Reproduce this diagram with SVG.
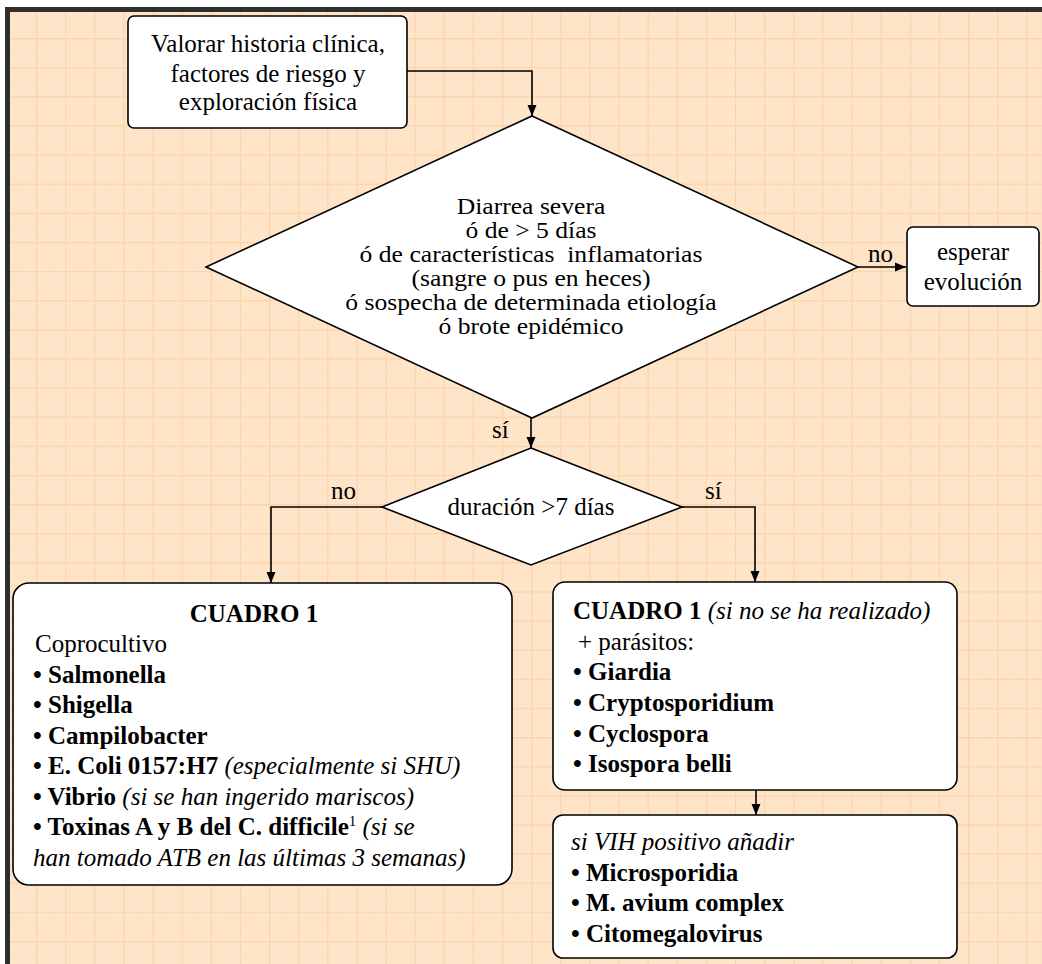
<svg xmlns="http://www.w3.org/2000/svg" width="1042" height="964" viewBox="0 0 1042 964" font-family="'Liberation Serif', 'Times New Roman', Times, serif">
<style>
text{font-family:'Liberation Serif','Times New Roman',Times,serif;font-size:25px;fill:#000}
.c{text-anchor:middle}
.b{font-weight:bold}
.i{font-style:italic}
.d{font-size:23.5px}
.node{fill:#fff;stroke:#000;stroke-width:1.6}
.conn{fill:none;stroke:#000;stroke-width:1.6}
</style>
<defs>
<pattern id="grid" patternUnits="userSpaceOnUse" x="6.875" y="8.875" width="29.125" height="29.125">
<rect width="29.125" height="29.125" fill="#fee4c9"/>
<path d="M14.56,0V29.125M0,14.56H29.125" stroke="#fde0c0" stroke-width="1"/>
<path d="M0.5,0V29.125M0,0.5H29.125" stroke="#fcd3a6" stroke-width="1.2"/>
</pattern>
<marker id="arr" markerUnits="userSpaceOnUse" markerWidth="12" markerHeight="12" viewBox="0 0 12 12" refX="11" refY="6" orient="auto">
<path d="M0,1.5L11,6L0,10.5Z" fill="#000"/>
</marker>
</defs>
<rect x="0" y="0" width="1042" height="964" fill="#fff"/>
<rect x="10" y="12" width="1032" height="952" fill="url(#grid)"/>
<rect x="5" y="7" width="1037" height="5" fill="#2f2f2f"/>
<rect x="5" y="7" width="5" height="957" fill="#2f2f2f"/>

<g id="connectors">
<path class="conn" d="M407,71H532V116" marker-end="url(#arr)"/>
<path class="conn" d="M857,267H906" marker-end="url(#arr)"/>
<path class="conn" d="M531,418V448" marker-end="url(#arr)"/>
<path class="conn" d="M382,507H271V583" marker-end="url(#arr)"/>
<path class="conn" d="M682,507H755V582" marker-end="url(#arr)"/>
<path class="conn" d="M756,790V815" marker-end="url(#arr)"/>
<text x="868" y="262">no</text>
<text x="492" y="438">sí</text>
<text x="331" y="499">no</text>
<text x="705" y="499">sí</text>
</g>

<g id="start">
<rect class="node" x="128" y="16" width="279" height="112" rx="6"/>
<text class="c" x="268" y="52">Valorar historia clínica,</text>
<text class="c" x="268" y="82">factores de riesgo y</text>
<text class="c" x="268" y="110">exploración física</text>
</g>

<g id="decision1">
<polygon class="node" points="532,116 858,267 532,418 206,267"/>
<g transform="translate(531,0) scale(1.09,1) translate(-531,0)">
<text class="c d" x="531" y="214">Diarrea severa</text>
<text class="c d" x="531" y="238">ó de &gt; 5 días</text>
<text class="c d" x="531" y="262" xml:space="preserve">ó de características  inflamatorias</text>
<text class="c d" x="531" y="286">(sangre o pus en heces)</text>
<text class="c d" x="531" y="310">ó sospecha de determinada etiología</text>
<text class="c d" x="531" y="334">ó brote epidémico</text>
</g>
</g>

<g id="wait">
<rect class="node" x="907" y="227" width="132" height="79" rx="6"/>
<text class="c" x="973" y="260">esperar</text>
<text class="c" x="973" y="290">evolución</text>
</g>

<g id="decision2">
<polygon class="node" points="531,448 682,507 531,565 382,507"/>
<text class="c" x="531" y="515">duración &gt;7 días</text>
</g>

<g id="cuadro1">
<rect class="node" x="13" y="583" width="499" height="302" rx="16"/>
<text class="c b" x="254" y="622">CUADRO 1</text>
<text x="35" y="652">Coprocultivo</text>
<text class="b" x="33" y="683">• Salmonella</text>
<text class="b" x="33" y="713">• Shigella</text>
<text class="b" x="33" y="744">• Campilobacter</text>
<text x="33" y="774"><tspan class="b">• E. Coli 0157:H7</tspan><tspan class="i"> (especialmente si SHU)</tspan></text>
<text x="33" y="805"><tspan class="b">• Vibrio</tspan><tspan class="i"> (si se han ingerido mariscos)</tspan></text>
<text x="33" y="835"><tspan class="b">• Toxinas A y B del C. difficile</tspan><tspan font-size="15" dy="-9">1</tspan><tspan class="i" dy="9"> (si se</tspan></text>
<text class="i" x="33" y="866">han tomado ATB en las últimas 3 semanas)</text>
</g>

<g id="parasitos">
<rect class="node" x="553" y="582" width="404" height="208" rx="12"/>
<text x="573" y="619"><tspan class="b">CUADRO 1</tspan><tspan class="i"> (si no se ha realizado)</tspan></text>
<text x="578" y="650">+ parásitos:</text>
<text class="b" x="573" y="680">• Giardia</text>
<text class="b" x="573" y="711">• Cryptosporidium</text>
<text class="b" x="573" y="742">• Cyclospora</text>
<text class="b" x="573" y="772">• Isospora belli</text>
</g>

<g id="vih">
<rect class="node" x="553" y="815" width="404" height="143" rx="10"/>
<text class="i" x="571" y="850">si VIH positivo añadir</text>
<text class="b" x="571" y="881">• Microsporidia</text>
<text class="b" x="571" y="911">• M. avium complex</text>
<text class="b" x="571" y="942">• Citomegalovirus</text>
</g>
</svg>
